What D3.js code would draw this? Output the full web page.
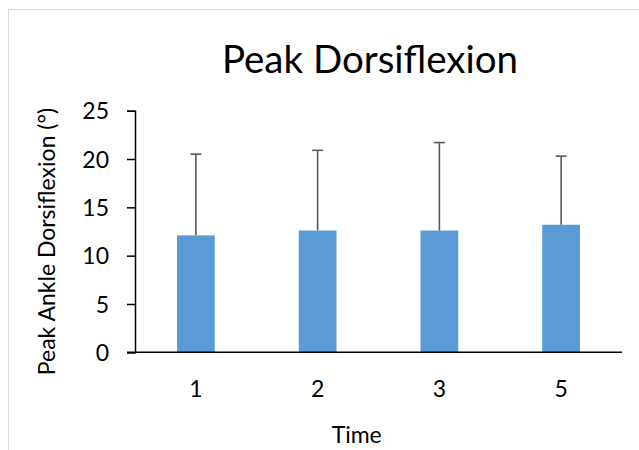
<!DOCTYPE html>
<html>
<head>
<meta charset="utf-8">
<script src="https://cdn.jsdelivr.net/npm/d3@7"></script>
<style>
  body { margin: 0; background: #fff; }
  svg text { font-family: Lato, "Open Sans", sans-serif; fill: #000; }
</style>
</head>
<body>
<div id="canvas"></div>
<script>
const w = 639, h = 450;

// chart values
const times = ["1", "2", "3", "5"];
const means = [12.1, 12.6, 12.6, 13.2];
const sds = [8.4, 8.3, 9.1, 7.1];
const yTicks = [0, 5, 10, 15, 20, 25];

const plot = { left: 135, right: 622, top: 110.7, bottom: 352.3 };

let svg = d3.select("#canvas")
            .append("svg")
                .attr("width", w)
                .attr("height", h)
                .attr("viewBox", [0, 0, w, h]);

// chart frame
svg.append("rect")
    .attr("x", 8.5).attr("y", 9.5)
    .attr("width", 700).attr("height", 500)
    .attr("fill", "none")
    .attr("stroke", "#d9d9d9")
    .attr("stroke-width", 1);

let x = d3.scaleBand()
    .domain(times)
    .range([plot.left, plot.right])
    .paddingInner(0.69)
    .paddingOuter(0.345);

let y = d3.scaleLinear()
    .domain([0, 25])
    .range([plot.bottom, plot.top]);

// bars
svg.append("g").selectAll("rect")
    .data(times)
    .enter().append("rect")
        .attr("x", (d) => x(d))
        .attr("width", x.bandwidth())
        .attr("y", (d, i) => y(means[i]))
        .attr("height", (d, i) => y(0) - y(means[i]))
        .attr("fill", "#5b9bd5");

// error bars (upper only)
let err = svg.append("g")
    .attr("stroke", "#5a5a5a")
    .attr("stroke-width", 1.6);
times.forEach((t, i) => {
    let cx = x(t) + x.bandwidth() / 2;
    let top = y(means[i] + sds[i]);
    err.append("line")
        .attr("x1", cx).attr("x2", cx)
        .attr("y1", y(means[i])).attr("y2", top);
    err.append("line")
        .attr("x1", cx - 5.5).attr("x2", cx + 5.5)
        .attr("y1", top).attr("y2", top);
});

// y axis
let yAxis = d3.axisLeft(y)
    .tickValues(yTicks)
    .tickSize(8)
    .tickPadding(18);
let gY = svg.append("g")
    .attr("transform", "translate(" + plot.left + ",0)")
    .call(yAxis);
gY.select(".domain").attr("stroke", "#000").attr("stroke-width", 1.5);
gY.selectAll(".tick line").attr("stroke", "#000").attr("stroke-width", 1.5);
gY.selectAll(".tick text")
    .attr("font-size", 23)
    .attr("font-family", "Lato, sans-serif")
    .attr("dy", "0.35em");

// x axis
let xAxis = d3.axisBottom(x)
    .tickSize(0)
    .tickPadding(28);
let gX = svg.append("g")
    .attr("transform", "translate(0," + plot.bottom + ")")
    .call(xAxis);
gX.select(".domain")
    .attr("d", "M" + (plot.left - 8) + ",0H" + plot.right)
    .attr("stroke", "#000").attr("stroke-width", 1.5);
gX.selectAll(".tick text")
    .attr("font-size", 23)
    .attr("font-family", "Lato, sans-serif");

// title
svg.append("text")
    .attr("x", 370).attr("y", 73.3)
    .attr("text-anchor", "middle")
    .attr("font-size", 38.5)
    .text("Peak Dorsiflexion");

// axis titles
svg.append("text")
    .attr("x", 356.7).attr("y", 442.7)
    .attr("text-anchor", "middle")
    .attr("font-size", 23)
    .text("Time");

svg.append("text")
    .attr("transform", "translate(55,241.5) rotate(-90)")
    .attr("text-anchor", "middle")
    .attr("font-size", 23)
    .text("Peak Ankle Dorsiflexion (°)");
</script>
</body>
</html>
